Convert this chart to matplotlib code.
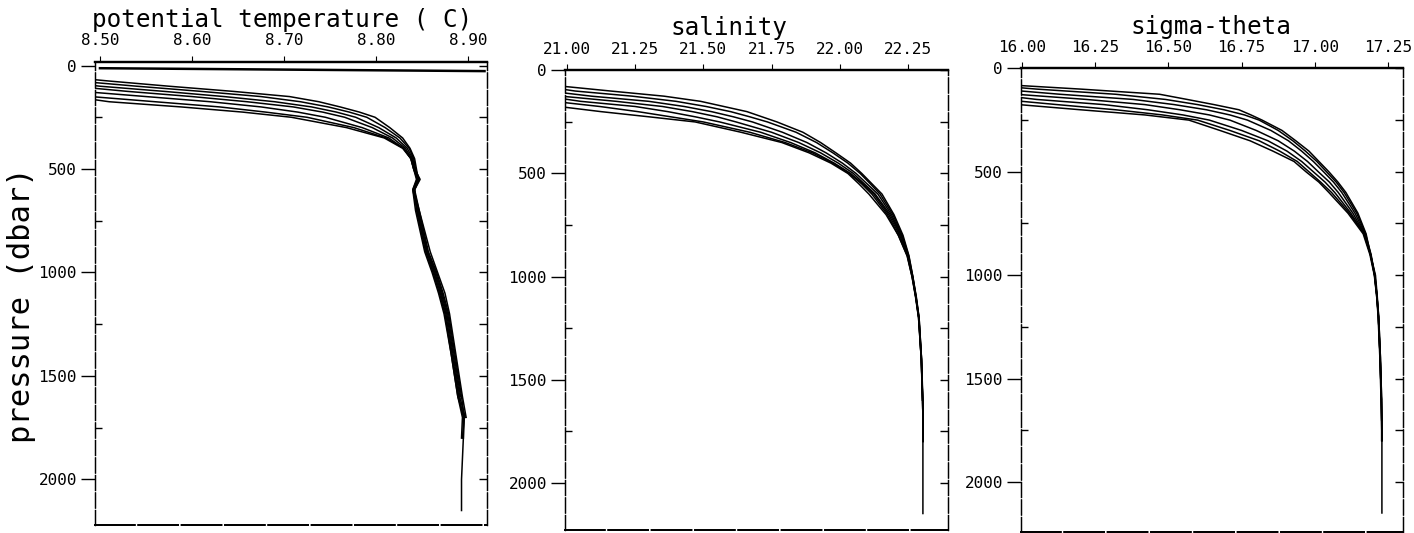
import numpy as np
import matplotlib
matplotlib.use("Agg")
import matplotlib.pyplot as plt

plt.rcParams["font.family"] = ["DejaVu Sans Mono", "DejaVu Sans"]

# pressure levels (dbar) shared by all casts
PRESSURE = [0, 25, 50, 75, 100, 125, 150, 175, 200, 225, 250, 300, 350, 400,
            450, 500, 550, 600, 700, 800, 900, 1000, 1100, 1200, 1400, 1600,
            1700, 1800, 2000, 2150]

# potential temperature (deg C), one list per cast
theta_a = [8.30, 8.38, 8.45, 8.51, 8.575, 8.645, 8.706, 8.738, 8.761, 8.782, 8.799, 8.815, 8.829, 8.837,
           8.842, 8.844, 8.846, 8.841, 8.846, 8.851, 8.856, 8.864, 8.871, 8.877, 8.884, 8.891, 8.897]
theta_b = [8.28, 8.35, 8.42, 8.475, 8.54, 8.61, 8.675, 8.718, 8.748, 8.771, 8.790, 8.810, 8.826, 8.836,
           8.841, 8.843, 8.847, 8.842, 8.847, 8.852, 8.857, 8.866, 8.873, 8.879, 8.886, 8.893, 8.896, 8.894]
theta_c = [8.26, 8.32, 8.39, 8.45, 8.50, 8.57, 8.635, 8.690, 8.730, 8.757, 8.778, 8.803, 8.822, 8.834,
           8.840, 8.842, 8.848, 8.842, 8.845, 8.850, 8.855, 8.863, 8.870, 8.876, 8.883, 8.890, 8.895, 8.895]
theta_d = [8.24, 8.30, 8.36, 8.42, 8.47, 8.53, 8.60, 8.660, 8.710, 8.742, 8.766, 8.796, 8.818, 8.832,
           8.839, 8.842, 8.845, 8.841, 8.847, 8.853, 8.859, 8.867, 8.875, 8.880, 8.887, 8.894, 8.898]
theta_e = [8.22, 8.28, 8.34, 8.39, 8.44, 8.48, 8.55, 8.620, 8.675, 8.715, 8.745, 8.785, 8.814, 8.830,
           8.838, 8.841, 8.846, 8.842, 8.844, 8.849, 8.854, 8.862, 8.869, 8.875, 8.882, 8.889, 8.894, 8.893]
theta_f = [8.21, 8.27, 8.33, 8.38, 8.42, 8.46, 8.49, 8.56, 8.630, 8.680, 8.725, 8.776, 8.811, 8.830,
           8.838, 8.841, 8.844, 8.840, 8.845, 8.850, 8.856, 8.865, 8.872, 8.878, 8.885, 8.892]
theta_g = [8.20, 8.26, 8.32, 8.37, 8.41, 8.44, 8.47, 8.51, 8.588, 8.655, 8.708, 8.768, 8.809, 8.829,
           8.838, 8.841, 8.845, 8.840, 8.843, 8.848, 8.853, 8.861, 8.868, 8.874, 8.882, 8.889, 8.896, 8.895,
           8.893, 8.893]

# near-surface trace in the temperature panel
surface_theta = [8.50, 8.918]
surface_p = [13, 27]

# salinity, one list per cast
sal_a = [20.60, 20.75, 20.88, 20.97, 21.16, 21.356, 21.49, 21.575, 21.66, 21.715, 21.77, 21.865, 21.93, 21.986,
         22.04, 22.081, 22.118, 22.155, 22.199, 22.232, 22.254, 22.268, 22.280, 22.291, 22.300, 22.304, 22.305, 22.305]
sal_b = [20.50, 20.65, 20.80, 20.90, 21.03, 21.24, 21.40, 21.51, 21.60, 21.67, 21.735, 21.84, 21.915, 21.975,
         22.03, 22.075, 22.112, 22.148, 22.195, 22.229, 22.253, 22.268, 22.281, 22.291, 22.300, 22.304, 22.305, 22.306]
sal_c = [20.45, 20.60, 20.72, 20.83, 20.93, 21.09, 21.30, 21.43, 21.53, 21.61, 21.68, 21.79, 21.88, 21.95,
         22.01, 22.06, 22.10, 22.14, 22.19, 22.226, 22.251, 22.267, 22.279, 22.290, 22.299, 22.304, 22.305]
sal_d = [20.40, 20.55, 20.67, 20.78, 20.88, 20.98, 21.18, 21.35, 21.46, 21.55, 21.62, 21.75, 21.85, 21.93,
         21.995, 22.05, 22.09, 22.13, 22.185, 22.224, 22.250, 22.267, 22.280, 22.290, 22.300, 22.305, 22.306, 22.306]
sal_e = [20.38, 20.50, 20.62, 20.72, 20.82, 20.92, 21.05, 21.25, 21.37, 21.47, 21.56, 21.71, 21.82, 21.91,
         21.98, 22.04, 22.085, 22.125, 22.18, 22.22, 22.249, 22.266, 22.279, 22.289, 22.299, 22.304, 22.305, 22.305]
sal_f = [20.35, 20.45, 20.55, 20.65, 20.75, 20.85, 20.95, 21.12, 21.26, 21.38, 21.50, 21.67, 21.80, 21.90,
         21.975, 22.035, 22.08, 22.118, 22.175, 22.215, 22.248, 22.265, 22.278, 22.289, 22.299, 22.303]
sal_g = [20.30, 20.40, 20.50, 20.60, 20.70, 20.80, 20.88, 20.97, 21.125, 21.30, 21.47, 21.638, 21.788, 21.888,
         21.968, 22.03, 22.07, 22.107, 22.17, 22.215, 22.247, 22.265, 22.279, 22.290, 22.299, 22.304, 22.305, 22.305,
         22.305, 22.305]

# sigma-theta, one list per cast
sig_a = [15.50, 15.65, 15.78, 15.90, 16.20, 16.47, 16.564, 16.656, 16.741, 16.782, 16.82, 16.888, 16.935, 16.98,
         17.014, 17.048, 17.079, 17.106, 17.147, 17.175, 17.19, 17.207, 17.213, 17.218, 17.224, 17.228, 17.229, 17.229]
sig_b = [15.45, 15.60, 15.72, 15.84, 16.05, 16.32, 16.49, 16.60, 16.69, 16.76, 16.81, 16.875, 16.925, 16.968,
         17.007, 17.04, 17.073, 17.100, 17.143, 17.173, 17.192, 17.205, 17.212, 17.217, 17.223, 17.227, 17.228, 17.229]
sig_c = [15.42, 15.55, 15.68, 15.79, 15.92, 16.13, 16.38, 16.52, 16.63, 16.71, 16.77, 16.85, 16.91, 16.955,
         16.995, 17.03, 17.064, 17.092, 17.137, 17.171, 17.191, 17.204, 17.212, 17.217, 17.223, 17.227, 17.228]
sig_d = [15.40, 15.52, 15.64, 15.75, 15.86, 15.98, 16.22, 16.42, 16.54, 16.64, 16.71, 16.80, 16.875, 16.93,
         16.975, 17.012, 17.05, 17.08, 17.13, 17.169, 17.19, 17.205, 17.212, 17.218, 17.224, 17.228, 17.229, 17.229]
sig_e = [15.36, 15.48, 15.60, 15.70, 15.80, 15.90, 16.05, 16.28, 16.43, 16.55, 16.64, 16.75, 16.84, 16.905,
         16.955, 16.995, 17.035, 17.068, 17.123, 17.168, 17.19, 17.204, 17.212, 17.217, 17.223, 17.227, 17.228, 17.228]
sig_f = [15.33, 15.45, 15.56, 15.65, 15.74, 15.83, 15.93, 16.12, 16.32, 16.48, 16.60, 16.71, 16.81, 16.88,
         16.94, 16.98, 17.02, 17.057, 17.118, 17.168, 17.19, 17.204, 17.211, 17.217, 17.223, 17.227]
sig_g = [15.30, 15.42, 15.52, 15.60, 15.68, 15.76, 15.85, 15.99, 16.20, 16.42, 16.57, 16.676, 16.779, 16.857,
         16.929, 16.97, 17.014, 17.048, 17.113, 17.165, 17.188, 17.203, 17.211, 17.216, 17.222, 17.226, 17.228, 17.229,
         17.229, 17.229]

theta_ticks = [8.50, 8.60, 8.70, 8.80, 8.90]
theta_labels = ["8.50", "8.60", "8.70", "8.80", "8.90"]
sal_ticks = [21.00, 21.25, 21.50, 21.75, 22.00, 22.25]
sal_labels = ["21.00", "21.25", "21.50", "21.75", "22.00", "22.25"]
sig_ticks = [16.00, 16.25, 16.50, 16.75, 17.00, 17.25]
sig_labels = ["16.00", "16.25", "16.50", "16.75", "17.00", "17.25"]
p_ticks = [0, 500, 1000, 1500, 2000]
p_labels = ["0", "500", "1000", "1500", "2000"]
p_minor = [250, 750, 1250, 1750]

W, H = 1414, 533
fig = plt.figure(figsize=(W / 100, H / 100), dpi=100)


def box(left, top, right, bottom):
    return [left / W, 1 - bottom / H, (right - left) / W, (bottom - top) / H]


panels = [
    dict(rect=box(95, 62, 487, 525), xlim=(8.4946, 8.9207), ylim=(2220, -17),
         casts=[theta_a, theta_b, theta_c, theta_d, theta_e, theta_f, theta_g],
         ticks=theta_ticks, labels=theta_labels, xpad=6,
         title="potential temperature ( C)", title_xy=(282, 27)),
    dict(rect=box(565, 70, 948, 530), xlim=(20.993, 22.397), ylim=(2230, -2),
         casts=[sal_a, sal_b, sal_c, sal_d, sal_e, sal_f, sal_g],
         ticks=sal_ticks, labels=sal_labels, xpad=5,
         title="salinity", title_xy=(729, 35)),
    dict(rect=box(1021, 68, 1403, 532), xlim=(15.997, 17.301), ylim=(2242, -2),
         casts=[sig_a, sig_b, sig_c, sig_d, sig_e, sig_f, sig_g],
         ticks=sig_ticks, labels=sig_labels, xpad=5,
         title="sigma-theta", title_xy=(1211, 34)),
]

tick_font = dict(size=11.5, color="black")

for i, spec in enumerate(panels):
    ax = fig.add_axes(spec["rect"])
    for vals in spec["casts"]:
        ax.plot(vals, PRESSURE[:len(vals)], color="black", lw=1.1,
                solid_joinstyle="round")
    if i == 0:
        ax.plot(surface_theta, surface_p, color="black", lw=1.8)
    ax.set_xlim(*spec["xlim"])
    ax.set_ylim(*spec["ylim"])

    # left axis: labelled major ticks outward, short minor ticks inward
    ax.set_yticks(p_ticks)
    ax.set_yticklabels(p_labels, fontdict=tick_font)
    ax.set_yticks(p_minor, minor=True)
    ax.tick_params(axis="y", which="major", direction="out", length=10,
                   width=1.0, pad=3)
    ax.tick_params(axis="y", which="minor", direction="in", length=5, width=1.0)

    # right axis: unlabelled inward ticks every 250 dbar
    rx = ax.twinx()
    rx.set_ylim(*spec["ylim"])
    rx.set_yticks(sorted(p_ticks + p_minor))
    rx.tick_params(axis="y", direction="in", length=6, width=1.0,
                   labelright=False)
    rx.tick_params(axis="x", which="both", bottom=False, top=False,
                   labelbottom=False, labeltop=False)

    # top axis with value labels
    ax.set_xticks(spec["ticks"])
    ax.set_xticklabels(spec["labels"], fontdict=tick_font)
    ax.tick_params(axis="x", which="both", bottom=False, labelbottom=False,
                   top=True, labeltop=True, direction="out", length=4,
                   width=0.8, pad=spec["xpad"])

    for a in (ax, rx):
        for side in ("left", "right"):
            a.spines[side].set_linestyle((0, (12, 2)))
            a.spines[side].set_linewidth(0.9)
        a.spines["top"].set_linewidth(1.6)
        a.spines["bottom"].set_linewidth(1.3)
        a.spines["bottom"].set_linestyle((0, (22, 2)))

    tx, ty = spec["title_xy"]
    fig.text(tx / W, 1 - ty / H, spec["title"], ha="center", va="baseline",
             fontsize=17.5, color="black")

fig.text(22 / W, 1 - 305 / H, "pressure (dbar)", rotation=90,
         ha="center", va="center", fontsize=22, color="black")

fig.savefig("out.png", dpi=100)
